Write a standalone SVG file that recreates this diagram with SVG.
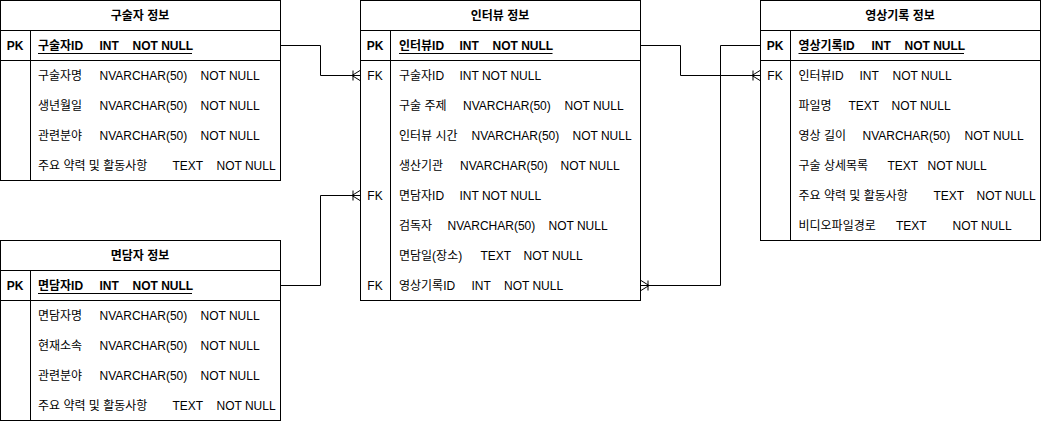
<svg xmlns="http://www.w3.org/2000/svg" width="1041" height="422" viewBox="0 0 1041 422">
<style>
text{font-family:"Liberation Sans","Noto Sans CJK KR",sans-serif;font-size:12px;fill:#000}
.h{font-weight:bold;text-anchor:middle}
.pk{font-weight:bold;text-anchor:middle}
.fk{text-anchor:middle}
.k{font-weight:bold}
.box{fill:#fff;stroke:#000;stroke-width:1}
.ln{fill:none;stroke:#000;stroke-width:1}
</style>
<defs>
<marker id="otm" markerUnits="userSpaceOnUse" viewBox="-12 -7 14 14" markerWidth="14" markerHeight="14" refX="0" refY="0" orient="auto" overflow="visible">
<path d="M-8,0 L0,-5 M-8,0 L0,5 M-7,-5 L-7,5" fill="none" stroke="#000" stroke-width="1"/>
</marker>
</defs>
<rect width="1041" height="422" fill="#fff"/>

<g id="connectors">
<path class="ln" d="M280.5,45.5 H320.5 V75.5 H360" marker-end="url(#otm)"/>
<path class="ln" d="M280.5,285.5 H320.5 V195.5 H360" marker-end="url(#otm)"/>
<path class="ln" d="M640.5,45.5 H680.5 V75.5 H760" marker-end="url(#otm)"/>
<path class="ln" d="M760.5,45.5 H720.5 V285.5 H641" marker-end="url(#otm)"/>
</g>

<g id="node-narrator">
<rect class="box" x="0.5" y="0.5" width="280" height="180"/>
<path class="ln" d="M0.5,30.5 H280.5 M0.5,60.5 H280.5 M30.5,30.5 V180.5"/>
<text class="h" x="140" y="20">구술자 정보</text>
<text class="pk" x="15" y="50">PK</text>
<text class="k" y="50"><tspan x="38">구술자ID</tspan><tspan x="99.5">INT</tspan><tspan x="132.5">NOT NULL</tspan></text>
<path class="ln" d="M38,53.5 H192"/>
<text y="80"><tspan x="38">구술자명</tspan><tspan x="99.5">NVARCHAR(50)</tspan><tspan x="200.5">NOT NULL</tspan></text>
<text y="110"><tspan x="38">생년월일</tspan><tspan x="99.5">NVARCHAR(50)</tspan><tspan x="200.5">NOT NULL</tspan></text>
<text y="140"><tspan x="38">관련분야</tspan><tspan x="99.5">NVARCHAR(50)</tspan><tspan x="200.5">NOT NULL</tspan></text>
<text y="170"><tspan x="38">주요 약력 및 활동사항</tspan><tspan x="172.5">TEXT</tspan><tspan x="216.5">NOT NULL</tspan></text>
</g>

<g id="node-interviewer">
<rect class="box" x="0.5" y="240.5" width="280" height="180"/>
<path class="ln" d="M0.5,270.5 H280.5 M0.5,300.5 H280.5 M30.5,270.5 V420.5"/>
<text class="h" x="140" y="260">면담자 정보</text>
<text class="pk" x="15" y="290">PK</text>
<text class="k" y="290"><tspan x="38">면담자ID</tspan><tspan x="99.5">INT</tspan><tspan x="132.5">NOT NULL</tspan></text>
<path class="ln" d="M38,293.5 H192"/>
<text y="320"><tspan x="38">면담자명</tspan><tspan x="99.5">NVARCHAR(50)</tspan><tspan x="200.5">NOT NULL</tspan></text>
<text y="350"><tspan x="38">현재소속</tspan><tspan x="99.5">NVARCHAR(50)</tspan><tspan x="200.5">NOT NULL</tspan></text>
<text y="380"><tspan x="38">관련분야</tspan><tspan x="99.5">NVARCHAR(50)</tspan><tspan x="200.5">NOT NULL</tspan></text>
<text y="410"><tspan x="38">주요 약력 및 활동사항</tspan><tspan x="172.5">TEXT</tspan><tspan x="216.5">NOT NULL</tspan></text>
</g>

<g id="node-interview">
<rect class="box" x="360.5" y="0.5" width="280" height="300"/>
<path class="ln" d="M360.5,30.5 H640.5 M360.5,60.5 H640.5 M390.5,30.5 V300.5"/>
<text class="h" x="500" y="20">인터뷰 정보</text>
<text class="pk" x="375" y="50">PK</text>
<text class="k" y="50"><tspan x="399">인터뷰ID</tspan><tspan x="459.5">INT</tspan><tspan x="492.5">NOT NULL</tspan></text>
<path class="ln" d="M399,53.5 H552.5"/>
<text class="fk" x="375" y="80">FK</text>
<text y="80"><tspan x="399">구술자ID</tspan><tspan x="459.5">INT NOT NULL</tspan></text>
<text y="110"><tspan x="399">구술 주제</tspan><tspan x="463">NVARCHAR(50)</tspan><tspan x="564.5">NOT NULL</tspan></text>
<text y="140"><tspan x="399">인터뷰 시간</tspan><tspan x="471.5">NVARCHAR(50)</tspan><tspan x="572.5">NOT NULL</tspan></text>
<text y="170"><tspan x="399">생산기관</tspan><tspan x="460">NVARCHAR(50)</tspan><tspan x="560.5">NOT NULL</tspan></text>
<text class="fk" x="375" y="200">FK</text>
<text y="200"><tspan x="399">면담자ID</tspan><tspan x="459.5">INT NOT NULL</tspan></text>
<text y="230"><tspan x="399">검독자</tspan><tspan x="447.5">NVARCHAR(50)</tspan><tspan x="548.5">NOT NULL</tspan></text>
<text y="260"><tspan x="399">면담일(장소)</tspan><tspan x="480.5">TEXT</tspan><tspan x="523.5">NOT NULL</tspan></text>
<text class="fk" x="375" y="290">FK</text>
<text y="290"><tspan x="399">영상기록ID</tspan><tspan x="471.5">INT</tspan><tspan x="504">NOT NULL</tspan></text>
</g>

<g id="node-video">
<rect class="box" x="760.5" y="0.5" width="280" height="240"/>
<path class="ln" d="M760.5,30.5 H1040.5 M760.5,60.5 H1040.5 M790.5,30.5 V240.5"/>
<text class="h" x="900" y="20">영상기록 정보</text>
<text class="pk" x="775" y="50">PK</text>
<text class="k" y="50"><tspan x="798.5">영상기록ID</tspan><tspan x="871.5">INT</tspan><tspan x="904.5">NOT NULL</tspan></text>
<path class="ln" d="M798.5,53.5 H964"/>
<text class="fk" x="775" y="80">FK</text>
<text y="80"><tspan x="798.5">인터뷰ID</tspan><tspan x="859.5">INT</tspan><tspan x="892.5">NOT NULL</tspan></text>
<text y="110"><tspan x="798.5">파일명</tspan><tspan x="848.5">TEXT</tspan><tspan x="891.5">NOT NULL</tspan></text>
<text y="140"><tspan x="798.5">영상 길이</tspan><tspan x="862.5">NVARCHAR(50)</tspan><tspan x="964.5">NOT NULL</tspan></text>
<text y="170"><tspan x="798.5">구술 상세목록</tspan><tspan x="887.5">TEXT</tspan><tspan x="927.5">NOT NULL</tspan></text>
<text y="200"><tspan x="798.5">주요 약력 및 활동사항</tspan><tspan x="933.5">TEXT</tspan><tspan x="976.5">NOT NULL</tspan></text>
<text y="230"><tspan x="798.5">비디오파일경로</tspan><tspan x="896">TEXT</tspan><tspan x="952.5">NOT NULL</tspan></text>
</g>
</svg>
